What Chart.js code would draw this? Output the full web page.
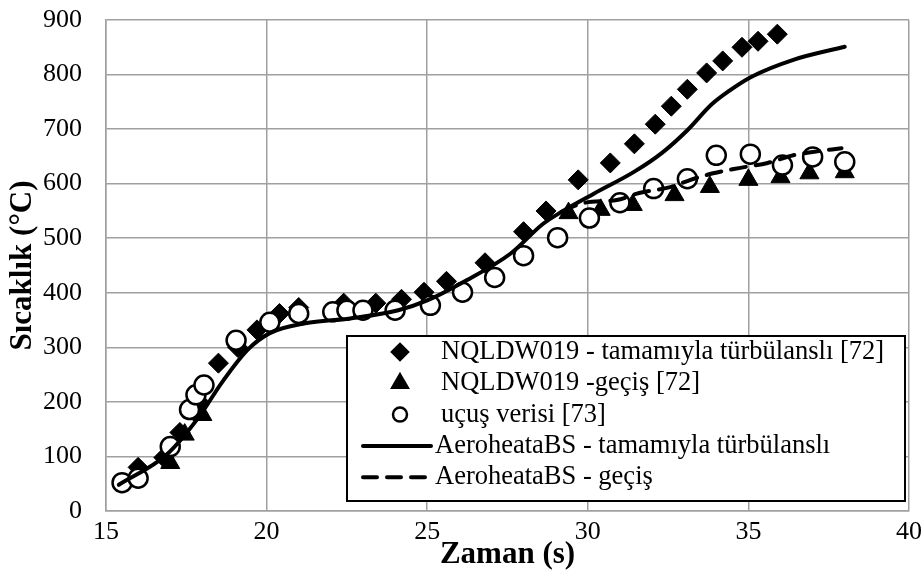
<!DOCTYPE html>
<html>
<head>
<meta charset="utf-8">
<script src="https://cdn.jsdelivr.net/npm/chart.js@4.4.0/dist/chart.umd.min.js"></script>
<style>
  html, body { margin: 0; padding: 0; background: #fff; }
</style>
</head>
<body>
<canvas id="heat" width="924" height="581"></canvas>
<script>
// NQLDW019 - tamamıyla türbülanslı [72]
const turbTime = [16.0, 16.8, 17.3, 17.9, 18.5, 19.1, 19.7, 20.4, 21.0, 22.4, 23.4, 24.2, 24.9, 25.6, 26.8, 28.0, 28.7,
                  29.7, 30.7, 31.45, 32.1, 32.6, 33.1, 33.7, 34.2, 34.8, 35.3, 35.9];
const turbTemp = [80, 98, 144, 200, 271, 300, 332, 362, 373, 381, 381, 388, 401, 421, 455, 512, 550,
                  607, 638, 673, 709, 742, 773, 803, 825, 850, 861, 874];

// NQLDW019 -geçiş [72]
const transTime = [16.0, 17.0, 17.45, 18.0, 29.4, 30.4, 31.4, 32.7, 33.8, 35.0, 36.0, 36.9, 38.0];
const transTemp = [75, 88, 140, 176, 546, 552, 561, 579, 594, 607, 612, 619, 621];

// uçuş verisi [73]
const flightTime = [15.5, 16.0, 17.0, 17.6, 17.8, 18.05, 19.05, 20.1, 21.0, 22.06, 22.5, 23.0, 24.0, 25.1, 26.1,
                    27.1, 28.0, 29.06, 30.05, 31.0, 32.05, 33.1, 34.0, 35.06, 36.06, 37.0, 38.0];
const flightTemp = [52, 60, 118, 186, 213, 231, 313, 346, 362, 365, 368, 368, 368, 377, 401,
                    428, 468, 501, 537, 565, 591, 609, 652, 654, 634, 649, 640];

// AeroheataBS - tamamıyla türbülanslı
const aeroTurbTime = [15.4, 16.9, 17.9, 18.6, 19.4, 20.1, 21.2, 22.6, 24.1, 25.0, 26.1, 27.6, 28.6, 29.2,
                      30.2, 31.45, 32.3, 33.1, 33.85, 34.4, 35.1, 36.4, 38.0];
const aeroTurbTemp = [48, 104, 173, 235, 295, 326, 344, 353, 368, 386, 419, 472, 526, 549,
                      582, 622, 656, 698, 745, 770, 796, 827, 851];

// AeroheataBS - geçiş
const aeroTransTime = [29.2, 29.9, 30.9, 31.6, 32.6, 33.2, 33.9, 34.75, 35.6, 36.4, 37.0, 37.9];
const aeroTransTemp = [549, 565, 570, 583, 594, 607, 619, 629, 638, 652, 658, 665];

const xTicks = [15, 20, 25, 30, 35, 40];
const yTicks = [0, 100, 200, 300, 400, 500, 600, 700, 800, 900];

function pairs(xs, ys) {
  return xs.map((x, i) => ({ x: x, y: ys[i] }));
}

const serif = '"Liberation Serif", "Times New Roman", serif';
const gridGray = '#a0a0a0';

const legendRows = [
  { kind: 'point', style: 'rectRot', radius: 8, fill: '#000', text: 'NQLDW019 - tamamıyla türbülanslı [72]' },
  { kind: 'point', style: 'triangle', radius: 9, fill: '#000', text: 'NQLDW019 -geçiş [72]' },
  { kind: 'point', style: 'circle', radius: 7, fill: '#fff', text: 'uçuş verisi [73]' },
  { kind: 'line', dash: [], text: 'AeroheataBS - tamamıyla türbülanslı' },
  { kind: 'line', dash: [14, 10], text: 'AeroheataBS - geçiş' }
];

const boxLegend = {
  id: 'boxLegend',
  afterDraw(chart) {
    const ctx = chart.ctx;
    const left = 347, top = 336, right = 905, bottom = 501;
    ctx.save();
    ctx.fillStyle = '#fff';
    ctx.fillRect(left, top, right - left, bottom - top);
    ctx.lineWidth = 2;
    ctx.strokeStyle = '#000';
    ctx.strokeRect(left, top, right - left, bottom - top);
    ctx.font = '26.5px ' + serif;
    ctx.textBaseline = 'middle';
    legendRows.forEach((row, i) => {
      const y = 352 + i * 31.3;
      if (row.kind === 'point') {
        ctx.fillStyle = row.fill;
        ctx.strokeStyle = '#000';
        ctx.lineWidth = 2.5;
        Chart.helpers.drawPoint(ctx, { pointStyle: row.style, radius: row.radius, rotation: 0, borderWidth: 2.5 }, 400, y);
        ctx.fillStyle = '#000';
        ctx.fillText(row.text, 441, y);
      } else {
        ctx.beginPath();
        ctx.lineWidth = 4;
        ctx.lineCap = 'round';
        ctx.setLineDash(row.dash);
        ctx.moveTo(363, y);
        ctx.lineTo(431, y);
        ctx.stroke();
        ctx.setLineDash([]);
        ctx.fillStyle = '#000';
        ctx.fillText(row.text, 435, y);
      }
    });
    ctx.restore();
  }
};

new Chart(document.getElementById('heat'), {
  type: 'scatter',
  data: {
    datasets: [
      {
        label: 'NQLDW019 - tamamıyla türbülanslı [72]',
        data: pairs(turbTime, turbTemp),
        pointStyle: 'rectRot',
        pointRadius: 10,
        backgroundColor: '#000',
        borderColor: '#000',
        borderWidth: 1,
        order: 5
      },
      {
        label: 'NQLDW019 -geçiş [72]',
        data: pairs(transTime, transTemp),
        pointStyle: 'triangle',
        pointRadius: 11,
        backgroundColor: '#000',
        borderColor: '#000',
        borderWidth: 1,
        order: 4
      },
      {
        label: 'uçuş verisi [73]',
        data: pairs(flightTime, flightTemp),
        pointStyle: 'circle',
        pointRadius: 9.5,
        backgroundColor: '#fff',
        borderColor: '#000',
        borderWidth: 2.5,
        order: 3
      },
      {
        label: 'AeroheataBS - tamamıyla türbülanslı',
        data: pairs(aeroTurbTime, aeroTurbTemp),
        showLine: true,
        pointRadius: 0,
        borderColor: '#000',
        borderWidth: 4,
        borderCapStyle: 'round',
        cubicInterpolationMode: 'monotone',
        order: 2
      },
      {
        label: 'AeroheataBS - geçiş',
        data: pairs(aeroTransTime, aeroTransTemp),
        showLine: true,
        pointRadius: 0,
        borderColor: '#000',
        borderWidth: 4,
        borderDash: [15, 10],
        borderCapStyle: 'round',
        cubicInterpolationMode: 'monotone',
        order: 1
      }
    ]
  },
  options: {
    responsive: false,
    devicePixelRatio: 1,
    animation: false,
    layout: { padding: { top: 20, right: 15, left: 0, bottom: 0 } },
    plugins: {
      legend: { display: false },
      tooltip: { enabled: false }
    },
    scales: {
      x: {
        type: 'linear',
        min: 15,
        max: 40,
        afterBuildTicks(scale) { scale.ticks = xTicks.map(v => ({ value: v })); },
        afterFit(scale) {
          scale.height = 70;
          scale.paddingLeft = 0;
          scale.paddingRight = 0;
        },
        ticks: { color: '#000', padding: 6, font: { family: serif, size: 26 } },
        grid: { color: gridGray, lineWidth: 1.5, drawTicks: false },
        border: { color: gridGray, width: 1.5 },
        title: {
          display: true,
          text: 'Zaman (s)',
          color: '#000',
          font: { family: serif, size: 31, weight: 'bold' },
          padding: { top: 0, bottom: 7 }
        }
      },
      y: {
        min: 0,
        max: 900,
        afterBuildTicks(scale) { scale.ticks = yTicks.map(v => ({ value: v })); },
        afterFit(scale) {
          scale.width = 106;
          scale.paddingTop = 0;
          scale.paddingBottom = 0;
        },
        ticks: { color: '#000', padding: 24, font: { family: serif, size: 26 } },
        grid: { color: gridGray, lineWidth: 1.5, drawTicks: false },
        border: { color: gridGray, width: 1.5 },
        title: {
          display: true,
          text: 'Sıcaklık (°C)',
          color: '#000',
          font: { family: serif, size: 31, weight: 'bold' },
          padding: { top: 4, bottom: 0 }
        }
      }
    }
  },
  plugins: [boxLegend]
});
</script>
</body>
</html>
